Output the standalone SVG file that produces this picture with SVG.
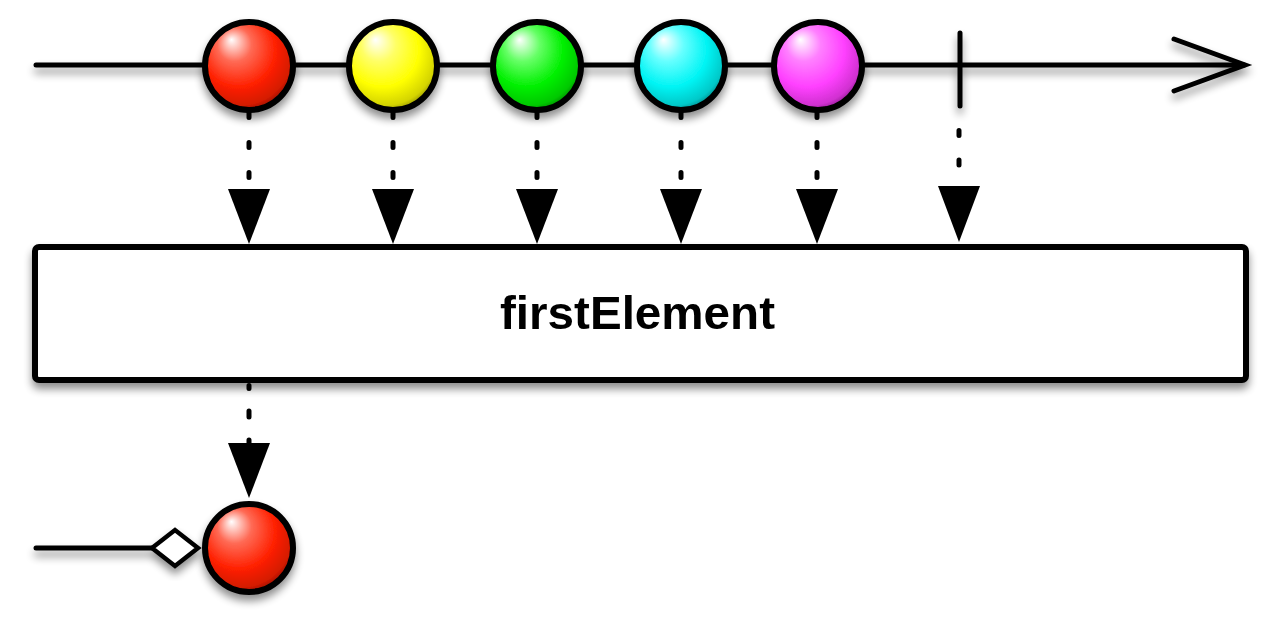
<svg xmlns="http://www.w3.org/2000/svg" width="1280" height="620" viewBox="0 0 1280 620">
<defs>
<filter id="sh" x="-20%" y="-20%" width="140%" height="160%">
<feGaussianBlur in="SourceAlpha" stdDeviation="4"/>
<feOffset dx="0" dy="6" result="b"/>
<feComponentTransfer><feFuncA type="linear" slope="0.45"/></feComponentTransfer>
<feMerge><feMergeNode/><feMergeNode in="SourceGraphic"/></feMerge>
</filter>
<radialGradient id="gRed" cx="0.42" cy="0.38" r="0.65" fx="0.3" fy="0.2">
<stop offset="0" stop-color="#ffffff"/><stop offset="0.3" stop-color="#ff6a55"/><stop offset="0.65" stop-color="#ff2000"/><stop offset="0.9" stop-color="#d41a00"/><stop offset="1" stop-color="#8a1000"/>
</radialGradient>
<radialGradient id="gYel" cx="0.42" cy="0.38" r="0.65" fx="0.3" fy="0.2">
<stop offset="0" stop-color="#ffffff"/><stop offset="0.3" stop-color="#ffff66"/><stop offset="0.65" stop-color="#ffff00"/><stop offset="0.9" stop-color="#d4d400"/><stop offset="1" stop-color="#8a8a00"/>
</radialGradient>
<radialGradient id="gGrn" cx="0.42" cy="0.38" r="0.65" fx="0.3" fy="0.2">
<stop offset="0" stop-color="#ffffff"/><stop offset="0.3" stop-color="#66ff66"/><stop offset="0.65" stop-color="#00f000"/><stop offset="0.9" stop-color="#00c800"/><stop offset="1" stop-color="#008000"/>
</radialGradient>
<radialGradient id="gCyn" cx="0.42" cy="0.38" r="0.65" fx="0.3" fy="0.2">
<stop offset="0" stop-color="#ffffff"/><stop offset="0.3" stop-color="#66ffff"/><stop offset="0.65" stop-color="#00f4f4"/><stop offset="0.9" stop-color="#00c8c8"/><stop offset="1" stop-color="#008080"/>
</radialGradient>
<radialGradient id="gMag" cx="0.42" cy="0.38" r="0.65" fx="0.3" fy="0.2">
<stop offset="0" stop-color="#ffffff"/><stop offset="0.3" stop-color="#ff80ff"/><stop offset="0.65" stop-color="#ff40ff"/><stop offset="0.9" stop-color="#d030d0"/><stop offset="1" stop-color="#881888"/>
</radialGradient>
</defs>
<style>
.ln{stroke:#000;stroke-width:5;fill:none;stroke-linecap:round}
.ball{stroke:#000;stroke-width:6}
.dash{stroke:#000;stroke-width:5;stroke-linecap:round;fill:none}
.head{fill:#000}
.lbl{font-family:"Liberation Sans",Arial,sans-serif;font-weight:bold;font-size:46px;fill:#000}
</style>
<rect width="1280" height="620" fill="#fff"/>
<g id="timeline-top" filter="url(#sh)">
<line class="ln" x1="36" y1="65" x2="1244" y2="65"/>
<polyline class="ln" points="1174,39 1245,65 1174,91" stroke-linejoin="miter"/>
<line class="ln" x1="960" y1="33" x2="960" y2="106"/>
</g>
<g id="ball-red" filter="url(#sh)"><circle class="ball" cx="249" cy="66" r="44" fill="url(#gRed)"/></g>
<g id="ball-yellow" filter="url(#sh)"><circle class="ball" cx="393" cy="66" r="44" fill="url(#gYel)"/></g>
<g id="ball-green" filter="url(#sh)"><circle class="ball" cx="537" cy="66" r="44" fill="url(#gGrn)"/></g>
<g id="ball-cyan" filter="url(#sh)"><circle class="ball" cx="681" cy="66" r="44" fill="url(#gCyn)"/></g>
<g id="ball-magenta" filter="url(#sh)"><circle class="ball" cx="818" cy="66" r="44" fill="url(#gMag)"/></g>
<g id="connectors">
<g class="dash">
<path d="M249 112.5V117.5M249 142.5V147.5M249 172.5V177.5"/>
<path d="M393 112.5V117.5M393 142.5V147.5M393 172.5V177.5"/>
<path d="M537 112.5V117.5M537 142.5V147.5M537 172.5V177.5"/>
<path d="M681 112.5V117.5M681 142.5V147.5M681 172.5V177.5"/>
<path d="M817 112.5V117.5M817 142.5V147.5M817 172.5V177.5"/>
<path d="M959 130.5V135.5M959 160V165"/>
<path d="M249 385.5V388.5M249 411V417M249 440V443"/>
</g>
<polygon class="head" points="228,189 270,189 249,244"/>
<polygon class="head" points="372,189 414,189 393,244"/>
<polygon class="head" points="516,189 558,189 537,244"/>
<polygon class="head" points="660,189 702,189 681,244"/>
<polygon class="head" points="796,189 838,189 817,244"/>
<polygon class="head" points="938,186 980,186 959,242"/>
<polygon class="head" points="228,443 270,443 249,498"/>
</g>
<g id="operator" filter="url(#sh)">
<rect x="35" y="247" width="1211" height="133" rx="4" fill="#fff" stroke="#000" stroke-width="6"/>
<text class="lbl" x="637.5" y="329" text-anchor="middle" textLength="275" lengthAdjust="spacingAndGlyphs">firstElement</text>
</g>
<g id="timeline-bottom" filter="url(#sh)">
<line class="ln" x1="36" y1="548" x2="152" y2="548"/>
<polygon points="152,548 175,530 198,548 175,566" fill="#fff" stroke="#000" stroke-width="4.5" stroke-linejoin="miter"/>
</g>
<g id="ball-result" filter="url(#sh)"><circle class="ball" cx="249" cy="548" r="44" fill="url(#gRed)"/></g>
</svg>
